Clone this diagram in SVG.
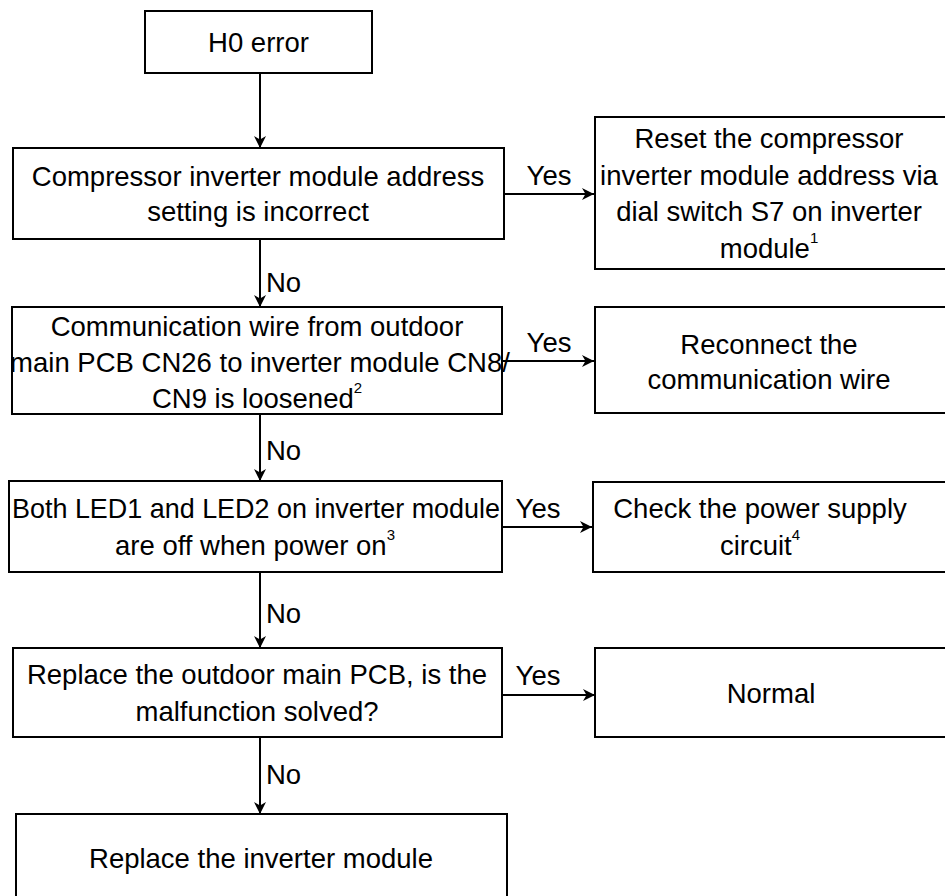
<svg xmlns="http://www.w3.org/2000/svg" width="945" height="896" viewBox="0 0 945 896">
<defs>
<marker id="arr" markerUnits="userSpaceOnUse" markerWidth="14" markerHeight="12" refX="12" refY="6" orient="auto">
<path d="M0,0 L12,6 L0,12 L3.5,6 Z" fill="#000"/>
</marker>
<style>
.box{fill:#fff;stroke:#000;stroke-width:2}
.t{font-family:"Liberation Sans",Arial,sans-serif;font-size:27.5px;fill:#000;text-anchor:middle;dominant-baseline:central}
.lbl{font-family:"Liberation Sans",Arial,sans-serif;font-size:27.5px;fill:#000;dominant-baseline:central}
.sup{font-size:15px}
.c{fill:none;stroke:#000;stroke-width:2;marker-end:url(#arr)}
</style>
</defs>
<rect width="945" height="896" fill="#fff"/>
<g id="connectors">
<line class="c" x1="260" y1="73" x2="260" y2="148"/>
<line class="c" x1="504" y1="194" x2="594" y2="194"/>
<line class="c" x1="260" y1="239" x2="260" y2="307"/>
<line class="c" x1="502" y1="361" x2="594" y2="361"/>
<line class="c" x1="260" y1="414" x2="260" y2="481"/>
<line class="c" x1="502" y1="527" x2="592" y2="527"/>
<line class="c" x1="260" y1="572" x2="260" y2="648"/>
<line class="c" x1="502" y1="695" x2="595" y2="695"/>
<line class="c" x1="260" y1="737" x2="260" y2="814"/>
<text class="lbl" x="549" y="175" text-anchor="middle">Yes</text>
<text class="lbl" x="549" y="342" text-anchor="middle">Yes</text>
<text class="lbl" x="538" y="508" text-anchor="middle">Yes</text>
<text class="lbl" x="538" y="675" text-anchor="middle">Yes</text>
<text class="lbl" x="266" y="282">No</text>
<text class="lbl" x="266" y="450">No</text>
<text class="lbl" x="266" y="613">No</text>
<text class="lbl" x="266" y="774">No</text>
</g>
<g id="n-h0">
<rect class="box" x="145" y="11" width="227" height="62"/>
<text class="t" x="258.5" y="42">H0 error</text>
</g>
<g id="n-address">
<rect class="box" x="13" y="148" width="491" height="91"/>
<text class="t" x="258" y="176">Compressor inverter module address</text>
<text class="t" x="258" y="211">setting is incorrect</text>
</g>
<g id="n-reset">
<rect class="box" x="595" y="117" width="360" height="152"/>
<text class="t" x="769" y="138">Reset the compressor</text>
<text class="t" x="769" y="175">inverter module address via</text>
<text class="t" x="769" y="211">dial switch S7 on inverter</text>
<text class="t" x="769" y="248">module<tspan class="sup" dy="-11">1</tspan></text>
</g>
<g id="n-wire">
<rect class="box" x="12" y="307" width="490" height="107"/>
<text class="t" x="257" y="326">Communication wire from outdoor</text>
<text class="t" x="260" y="362">main PCB CN26 to inverter module CN8/</text>
<text class="t" x="257" y="398">CN9 is loosened<tspan class="sup" dy="-11">2</tspan></text>
</g>
<g id="n-reconnect">
<rect class="box" x="595" y="307" width="360" height="106"/>
<text class="t" x="769" y="344">Reconnect the</text>
<text class="t" x="769" y="379">communication wire</text>
</g>
<g id="n-led">
<rect class="box" x="9" y="481" width="493" height="91"/>
<text class="t" x="256" y="508" textLength="488" lengthAdjust="spacingAndGlyphs">Both LED1 and LED2 on inverter module</text>
<text class="t" x="255" y="545">are off when power on<tspan class="sup" dy="-11">3</tspan></text>
</g>
<g id="n-power">
<rect class="box" x="593" y="482" width="362" height="90"/>
<text class="t" x="760" y="508">Check the power supply</text>
<text class="t" x="760" y="545">circuit<tspan class="sup" dy="-11">4</tspan></text>
</g>
<g id="n-pcb">
<rect class="box" x="13" y="648" width="489" height="89"/>
<text class="t" x="257" y="674">Replace the outdoor main PCB, is the</text>
<text class="t" x="257" y="711">malfunction solved?</text>
</g>
<g id="n-normal">
<rect class="box" x="595" y="648" width="360" height="89"/>
<text class="t" x="771" y="693">Normal</text>
</g>
<g id="n-inverter">
<rect class="box" x="16" y="814" width="491" height="100"/>
<text class="t" x="261" y="858">Replace the inverter module</text>
</g>
</svg>
